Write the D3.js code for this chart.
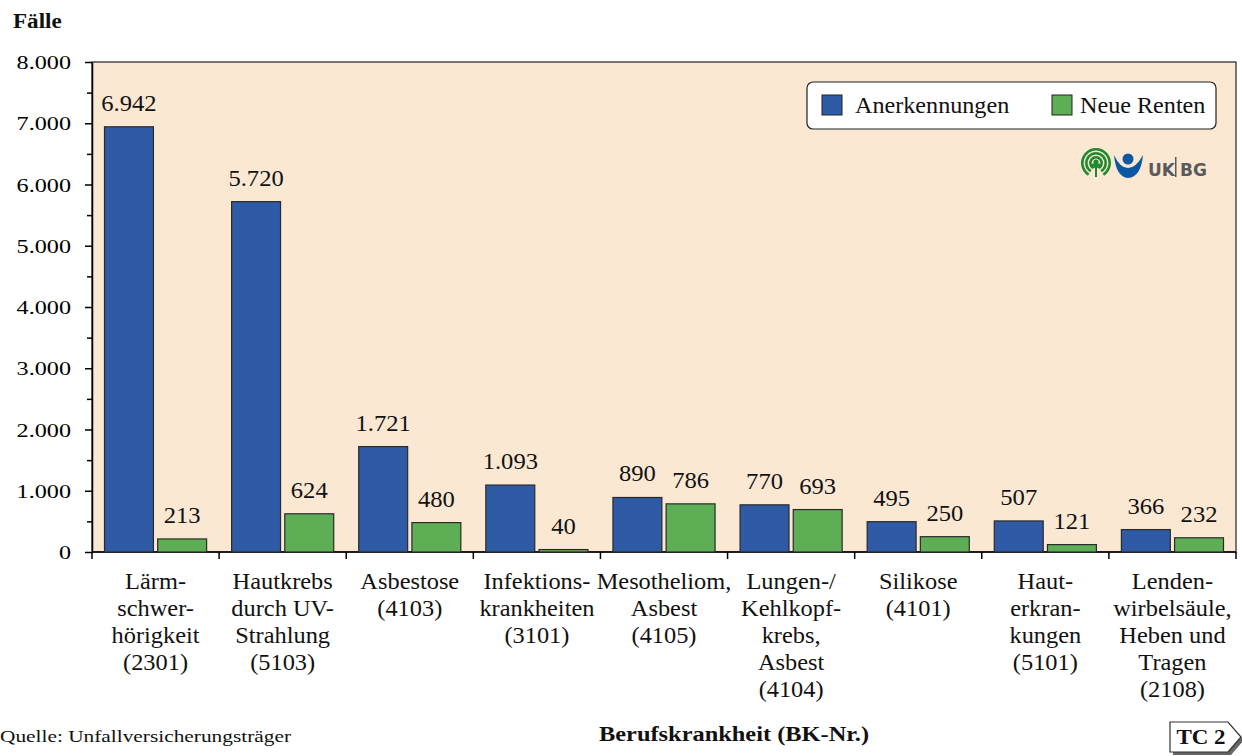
<!DOCTYPE html>
<html>
<head>
<meta charset="utf-8">
<script src="https://cdn.jsdelivr.net/npm/d3@7"></script>
<style>
  body { margin: 0; background: #ffffff; }
  svg { display: block; }
  svg text { font-family: 'Liberation Serif', 'Times New Roman', serif; }
</style>
</head>
<body>
<div class="graph"></div>
<script>
// categories (one entry per label line)
const categories = [
  ["Lärm-", "schwer-", "hörigkeit", "(2301)"],
  ["Hautkrebs", "durch UV-", "Strahlung", "(5103)"],
  ["Asbestose", "(4103)"],
  ["Infektions-", "krankheiten", "(3101)"],
  ["Mesotheliom,", "Asbest", "(4105)"],
  ["Lungen-/", "Kehlkopf-", "krebs,", "Asbest", "(4104)"],
  ["Silikose", "(4101)"],
  ["Haut-", "erkran-", "kungen", "(5101)"],
  ["Lenden-", "wirbelsäule,", "Heben und", "Tragen", "(2108)"]
];
const anerkennungen = [6942, 5720, 1721, 1093, 890, 770, 495, 507, 366];
const neueRenten = [213, 624, 480, 40, 786, 693, 250, 121, 232];
const seriesNames = ["Anerkennungen", "Neue Renten"];
const yTicks = [0, 1000, 2000, 3000, 4000, 5000, 6000, 7000, 8000];
const yMinorTicks = [500, 1500, 2500, 3500, 4500, 5500, 6500, 7500];

const colors = ["#2F5AA6", "#5EAE55"];
const de = d3.formatLocale({ decimal: ",", thousands: ".", grouping: [3], currency: ["", " €"] });
const fmt = de.format(",d");

const W = 1242, H = 756;
const margin = { top: 62, right: 6, bottom: 204, left: 92 },
  width = W - margin.left - margin.right,
  height = H - margin.top - margin.bottom;

// the original text is a bit wider than plain Times, so stretch it horizontally
function place(sel, fx, fy, sx) {
  sel.attr("transform", (d, i) => "translate(" + fx(d, i) + "," + fy(d, i) + ") scale(" + sx + ",1)");
}

const svg = d3.select(".graph").append("svg")
  .attr("width", W)
  .attr("height", H);

const g = svg.append("g")
  .attr("transform", "translate(" + margin.left + "," + margin.top + ")");

const x = d3.scaleBand()
  .domain(d3.range(categories.length))
  .range([0, width])
  .padding(0);

const x1 = d3.scaleBand()
  .domain([0, 1])
  .range([12.5, x.bandwidth() - 12.5])
  .paddingInner(0.08);

const y = d3.scaleLinear()
  .domain([0, 8000])
  .range([height, 0]);

// plot background
g.append("rect")
  .attr("width", width)
  .attr("height", height)
  .attr("fill", "#FAE8D3")
  .attr("stroke", "#222")
  .attr("stroke-width", 1.2);

// y axis
const yAxis = g.append("g")
  .call(d3.axisLeft(y).tickValues(yTicks).tickSize(7).tickSizeOuter(0).tickFormat(fmt));
yAxis.select(".domain").attr("stroke", "#000").attr("stroke-width", 1.5);
yAxis.selectAll(".tick line").attr("stroke-width", 1.5);
yAxis.selectAll("text")
  .attr("x", 0)
  .attr("dy", "0.34em")
  .attr("transform", "translate(-21,0) scale(1.24,1)")
  .style("font-size", "19.5px")
  .style("font-family", "'Liberation Serif', serif")
  .attr("fill", "#000");

g.append("g")
  .call(d3.axisLeft(y).tickValues(yMinorTicks).tickSize(5).tickFormat(""))
  .call(a => a.select(".domain").remove())
  .selectAll(".tick line").attr("stroke-width", 1.5);

// x axis with ticks on category boundaries
const xAxis = g.append("g")
  .attr("transform", "translate(0," + height + ")");
xAxis.append("line")
  .attr("x1", 0).attr("x2", width)
  .attr("stroke", "#000").attr("stroke-width", 1.5);
xAxis.selectAll(".xtick")
  .data(d3.range(categories.length + 1))
  .enter().append("line")
  .attr("x1", d => d < categories.length ? x(d) : width)
  .attr("x2", d => d < categories.length ? x(d) : width)
  .attr("y1", 0).attr("y2", 7)
  .attr("stroke", "#000").attr("stroke-width", 1.5);

// category labels
const cat = g.append("g").selectAll(".cat")
  .data(categories)
  .enter().append("text")
  .attr("text-anchor", "middle")
  .style("font-size", "23px")
  .attr("fill", "#111");
place(cat, (d, i) => x(i) + x.bandwidth() / 2, () => height + 37, 1.06);
cat.selectAll("tspan")
  .data(d => d)
  .enter().append("tspan")
  .attr("x", 0)
  .attr("dy", (d, i) => i === 0 ? 0 : 27)
  .text(d => d);

// bars
const series = [anerkennungen, neueRenten];
series.forEach(function (vals, s) {
  const grp = g.append("g");
  grp.selectAll("rect")
    .data(vals)
    .enter().append("rect")
    .attr("x", (d, i) => x(i) + x1(s))
    .attr("width", x1.bandwidth())
    .attr("y", d => y(d))
    .attr("height", d => height - y(d))
    .attr("fill", colors[s])
    .attr("stroke", "#2a2a2a")
    .attr("stroke-width", 1.2);
  const lbl = grp.selectAll("text")
    .data(vals)
    .enter().append("text")
    .attr("text-anchor", "middle")
    .style("font-size", "23px")
    .attr("fill", "#111")
    .text(d => fmt(d));
  place(lbl, (d, i) => x(i) + x1(s) + x1.bandwidth() / 2, d => y(d) - 16, 1.07);
});

// legend
const lg = svg.append("g").attr("transform", "translate(807,82)");
lg.append("rect")
  .attr("width", 409).attr("height", 47)
  .attr("rx", 6).attr("ry", 6)
  .attr("fill", "#fff").attr("stroke", "#222").attr("stroke-width", 1.2);
const legendX = [15, 245];
const legendTextX = [48, 273];
seriesNames.forEach(function (name, s) {
  lg.append("rect")
    .attr("x", legendX[s]).attr("y", 13)
    .attr("width", 20).attr("height", 20)
    .attr("fill", colors[s]).attr("stroke", "#222");
  lg.append("text")
    .attr("transform", "translate(" + legendTextX[s] + ",31) scale(1.05,1)")
    .style("font-size", "23px")
    .attr("fill", "#111")
    .text(name);
});

// logo
const logo = svg.append("g").attr("transform", "translate(1096,163)");
[15, 11, 7].forEach(function (r) {
  logo.append("path")
    .attr("d", d3.arc()({ innerRadius: r - 2.6, outerRadius: r, startAngle: -Math.PI * 0.82, endAngle: Math.PI * 0.82 }))
    .attr("fill", "#1F8A2E");
});
logo.append("rect").attr("x", -1).attr("y", 0).attr("width", 2).attr("height", 14).attr("fill", "#1F8A2E");
logo.append("circle").attr("cx", 0).attr("cy", -1).attr("r", 2.6).attr("fill", "#1F8A2E");
logo.append("circle").attr("cx", -3).attr("cy", 3).attr("r", 2.4).attr("fill", "#1F8A2E");
logo.append("circle").attr("cx", 3).attr("cy", 3).attr("r", 2.4).attr("fill", "#1F8A2E");
logo.append("circle").attr("cx", 32).attr("cy", -4).attr("r", 5.5).attr("fill", "#0B57A4");
logo.append("path")
  .attr("d", "M18,-8 Q20,14 32,15 Q45,14 47,-8 Q40,5 32,5 Q24,5 18,-8 Z")
  .attr("fill", "#0B57A4");
logo.append("text")
  .attr("x", 52).attr("y", 13)
  .style("font-family", "'DejaVu Sans', 'Open Sans', sans-serif")
  .style("font-weight", "bold")
  .style("font-size", "17px")
  .attr("fill", "#5a5a5a")
  .text("UK");
logo.append("rect").attr("x", 79).attr("y", -6).attr("width", 1.5).attr("height", 20).attr("fill", "#5a5a5a");
logo.append("text")
  .attr("x", 84).attr("y", 13)
  .style("font-family", "'DejaVu Sans', 'Open Sans', sans-serif")
  .style("font-weight", "bold")
  .style("font-size", "17px")
  .attr("fill", "#5a5a5a")
  .text("BG");

// titles
svg.append("text")
  .attr("transform", "translate(13,28) scale(1.1,1)")
  .style("font-size", "21px").style("font-weight", "bold")
  .attr("fill", "#111")
  .text("Fälle");

svg.append("text")
  .attr("transform", "translate(0,742) scale(1.22,1)")
  .style("font-size", "17.5px")
  .attr("fill", "#111")
  .text("Quelle: Unfallversicherungsträger");

svg.append("text")
  .attr("transform", "translate(734,741) scale(1.22,1)")
  .attr("text-anchor", "middle")
  .style("font-size", "20px").style("font-weight", "bold")
  .attr("fill", "#111")
  .text("Berufskrankheit (BK-Nr.)");

// TC 2 tag
const tag = svg.append("g").attr("transform", "translate(1170,722)");
tag.append("path")
  .attr("d", "M3,4 L61,4 L74,18 L61,33 L3,33 Z")
  .attr("fill", "#666");
tag.append("path")
  .attr("d", "M0,0 L58,0 L71,15 L58,30 L0,30 Z")
  .attr("fill", "#fff").attr("stroke", "#333").attr("stroke-width", 1.2);
tag.append("text")
  .attr("transform", "translate(31,22) scale(1.15,1)")
  .attr("text-anchor", "middle")
  .style("font-size", "20px").style("font-weight", "bold")
  .attr("fill", "#111")
  .text("TC 2");
</script>
</body>
</html>
